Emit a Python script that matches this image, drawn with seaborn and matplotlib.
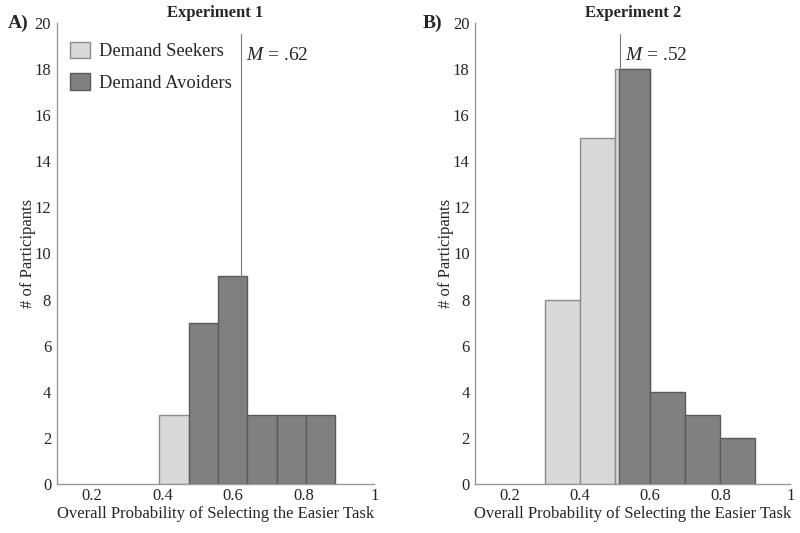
import numpy as np
import pandas as pd
import matplotlib.pyplot as plt
import seaborn as sns

# Experiment 1
exp1_seek_edges = [0.391, 0.474]
exp1_seek_counts = [3]
exp1_avoid_edges = [0.474, 0.557, 0.640, 0.723, 0.806, 0.889]
exp1_avoid_counts = [7, 9, 3, 3, 3]
exp1_mean = 0.622
exp1_mean_label = ".62"

# Experiment 2
exp2_seek_edges = [0.3, 0.4, 0.5, 0.6]
exp2_seek_counts = [8, 15, 18]
exp2_avoid_edges = [0.51, 0.6, 0.7, 0.8, 0.9]
exp2_avoid_counts = [18, 4, 3, 2]
exp2_mean = 0.513
exp2_mean_label = ".52"

x_ticks = [0.2, 0.4, 0.6, 0.8, 1.0]
x_tick_labels = ["0.2", "0.4", "0.6", "0.8", "1"]
y_ticks = list(range(0, 21, 2))

sns.set_style("white")
plt.rcParams["font.family"] = ["Liberation Serif", "DejaVu Serif"]
plt.rcParams["mathtext.fontset"] = "custom"
plt.rcParams["mathtext.it"] = "Liberation Serif:italic"
plt.rcParams["mathtext.rm"] = "Liberation Serif"

light = "#d9d9d9"
dark = "#808080"


def centers(edges):
    e = np.asarray(edges)
    return (e[:-1] + e[1:]) / 2


def draw_panel(ax, seek_edges, seek_counts, avoid_edges, avoid_counts,
               mean, mean_label, title, letter, letter_x, show_legend):
    seek = pd.DataFrame({"x": centers(seek_edges), "n": seek_counts})
    avoid = pd.DataFrame({"x": centers(avoid_edges), "n": avoid_counts})
    sns.histplot(data=seek, x="x", weights="n", bins=seek_edges, ax=ax,
                 color=light, edgecolor="#8c8c8c", linewidth=1.0, alpha=1,
                 label="Demand Seekers")
    sns.histplot(data=avoid, x="x", weights="n", bins=avoid_edges, ax=ax,
                 color=dark, edgecolor="#5a5a5a", linewidth=1.0, alpha=1,
                 label="Demand Avoiders")
    ax.plot([mean, mean], [0, 19.5], color="#7a7a7a", linewidth=0.8)
    ax.text(mean + 0.015, 18.6, r"$M$ = " + mean_label, fontsize=14,
            va="center", ha="left")

    ax.set_xlim(0.1, 1.0)
    ax.set_ylim(0, 20)
    ax.set_xticks(x_ticks)
    ax.set_xticklabels(x_tick_labels)
    ax.set_yticks(y_ticks)
    ax.tick_params(direction="in", length=4, width=0.8, color="#888888",
                   labelsize=12)
    ax.tick_params(axis="x", pad=3)
    ax.tick_params(axis="y", pad=4)
    ax.set_xlabel("Overall Probability of Selecting the Easier Task", fontsize=12)
    ax.set_ylabel("# of Participants", fontsize=12)
    ax.xaxis.set_label_coords(0.5, -0.047)
    ax.yaxis.set_label_coords(-0.066, 0.5)
    ax.set_title(title, fontsize=12, fontweight="bold", pad=4)
    ax.text(letter_x, 1.0, letter, transform=ax.transAxes, fontsize=14,
            fontweight="bold", va="center", ha="left")
    sns.despine(ax=ax)
    for s in ["left", "bottom"]:
        ax.spines[s].set_color("#999999")
        ax.spines[s].set_linewidth(1.0)
    if show_legend:
        ax.legend(loc="upper left", bbox_to_anchor=(0.0, 0.987), frameon=False,
                  fontsize=13.3, handlelength=1.1, handleheight=1.0,
                  labelspacing=0.7, handletextpad=0.5, borderaxespad=0.3)


fig = plt.figure(figsize=(8, 5.33), dpi=100)
ax1 = fig.add_axes([0.071, 0.092, 0.397, 0.865])
ax2 = fig.add_axes([0.594, 0.092, 0.394, 0.865])

draw_panel(ax1, exp1_seek_edges, exp1_seek_counts, exp1_avoid_edges,
           exp1_avoid_counts, exp1_mean, exp1_mean_label, "Experiment 1", "A)",
           -0.155, True)
draw_panel(ax2, exp2_seek_edges, exp2_seek_counts, exp2_avoid_edges,
           exp2_avoid_counts, exp2_mean, exp2_mean_label, "Experiment 2", "B)",
           -0.168, False)

fig.savefig("out.png", dpi=100)
